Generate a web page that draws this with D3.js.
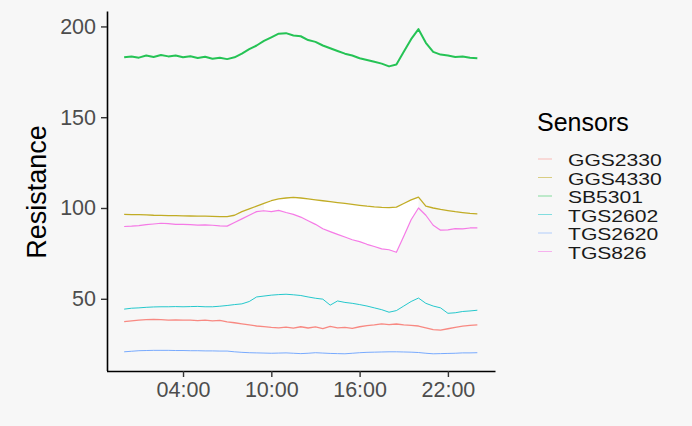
<!DOCTYPE html>
<html lang="en">

<head>
    <meta charset="UTF-8">
    <title>Sensors resistance</title>
    <style>
        body { margin: 0; background: #f7f7f7; }
        svg { font-family: "Liberation Sans", Arial, sans-serif; }
    </style>
</head>

<body>
    <svg id="chart"></svg>

    <script src="https://d3js.org/d3.v7.min.js"></script>
    <script>
        // hours after midnight
        const hours = [0, 0.5, 1, 1.5, 2, 2.5, 3, 3.5, 4, 4.5, 5, 5.5, 6, 6.5, 7, 7.5, 8, 8.5, 9, 9.5,
            10, 10.5, 11, 11.5, 12, 12.5, 13, 13.5, 14, 14.5, 15, 15.5, 16, 16.5, 17, 17.5, 18, 18.5, 19, 19.5,
            20, 20.5, 21, 21.5, 22, 22.5, 23, 23.5, 24]

        const sensors = ['GGS2330', 'GGS4330', 'SB5301', 'TGS2602', 'TGS2620', 'TGS826']
        const colors = ['#F8766D', '#B79F00', '#00BA38', '#00BFC4', '#619CFF', '#F564E3']

        const GGS2330 = [37.4, 37.8, 38.2, 38.5, 38.6, 38.5, 38.3, 38.4, 38.2, 38.3, 38.0, 38.2, 37.8, 38.1, 37.3, 36.8, 36.2, 35.6, 35.0, 34.7,
            34.3, 34.0, 34.4, 33.8, 34.6, 33.9, 34.5, 33.6, 34.8, 34.0, 34.3, 33.7, 34.6, 35.2, 35.6, 36.2, 35.8, 36.1, 35.6, 35.3,
            35.0, 34.0, 33.0, 32.7, 33.5, 34.3, 34.9, 35.3, 35.6]
        const GGS4330 = [96.5, 96.4, 96.3, 96.2, 96.0, 95.9, 95.8, 95.8, 95.7, 95.6, 95.5, 95.5, 95.4, 95.3, 95.3, 96.0, 98.0, 99.5, 101.0, 102.5,
            104.0, 105.0, 105.5, 105.8, 105.5, 105.0, 104.5, 104.0, 103.5, 103.0, 102.5, 102.0, 101.5, 101.0, 100.6, 100.3, 100.2, 100.5, 102.5, 104.5,
            106.0, 101.0, 100.0, 99.2, 98.6, 98.0, 97.5, 97.0, 96.8]
        const SB5301 = [183.0, 183.5, 182.8, 184.0, 183.2, 184.3, 183.5, 184.0, 183.0, 183.6, 182.6, 183.3, 182.2, 182.8, 182.0, 183.0, 185.0, 187.5, 189.5, 192.0,
            194.0, 196.0, 196.3, 195.0, 194.6, 192.5, 191.5, 189.5, 188.0, 186.5, 185.0, 184.0, 182.5, 181.5, 180.5, 179.5, 178.0, 179.0, 186.0, 193.0,
            198.5, 191.0, 186.0, 184.5, 184.0, 183.2, 183.5, 182.8, 182.5]
        const TGS2602 = [44.3, 44.8, 45.0, 45.3, 45.5, 45.6, 45.6, 45.7, 45.6, 45.7, 45.8, 45.6, 45.6, 45.9, 46.3, 46.8, 47.2, 48.5, 51.0, 51.5,
            52.0, 52.3, 52.5, 52.2, 51.8, 51.0, 50.3, 49.8, 46.5, 48.8, 48.0, 47.5, 46.8, 46.0, 45.0, 44.0, 42.6, 43.5, 46.0, 48.5,
            50.4, 47.5, 46.0, 45.0, 42.0, 42.3, 43.0, 43.3, 43.7]
        const TGS2620 = [20.8, 21.1, 21.4, 21.5, 21.6, 21.6, 21.6, 21.5, 21.5, 21.4, 21.4, 21.3, 21.3, 21.2, 21.2, 20.8, 20.5, 20.3, 20.2, 20.1,
            20.0, 20.1, 20.2, 20.0, 19.8, 20.0, 20.3, 20.1, 19.9, 19.8, 19.7, 20.0, 20.3, 20.5, 20.6, 20.7, 20.8, 20.8, 20.7, 20.6,
            20.4, 20.0, 19.7, 19.8, 19.9, 20.0, 20.2, 20.2, 20.3]
        const TGS826 = [89.8, 90.0, 90.3, 90.8, 91.2, 91.6, 91.4, 91.0, 91.0, 90.8, 90.6, 90.7, 90.5, 90.2, 90.0, 92.0, 94.0, 96.0, 98.0, 98.5,
            98.0, 98.7, 97.5, 96.5, 95.0, 93.0, 91.0, 88.6, 87.0, 85.5, 84.0, 82.5, 81.5, 80.0, 78.8, 77.5, 77.0, 75.6, 84.5, 93.5,
            100.0, 96.0, 90.5, 87.8, 88.0, 88.6, 88.5, 89.0, 89.1]

        const values = [GGS2330, GGS4330, SB5301, TGS2602, TGS2620, TGS826]
        const tickLabels = ['04:00', '10:00', '16:00', '22:00']

        function render() {
            const svg = d3.select('#chart').attr('width', 692).attr('height', 426)
            const day = new Date(2020, 0, 1)
            const toDate = h => new Date(day.getTime() + h * 3600 * 1000)
            const parse = d3.timeParse('%H:%M')

            const x = d3.scaleTime()
                .domain([toDate(-1.2), toDate(25.2)])
                .range([106.5, 495])
            const y = d3.scaleLinear()
                .domain([10.5, 208.5])
                .range([370.5, 11])

            const tickDates = tickLabels.map(t => {
                const p = parse(t)
                return toDate(p.getHours() + p.getMinutes() / 60)
            })

            // white band between GGS4330 and TGS826
            const band = hours.map((h, i) => ({ h, hi: GGS4330[i], lo: TGS826[i] }))
                .filter(d => d.h >= 9.5 && d.h <= 20)
            svg.append('path')
                .attr('fill', '#ffffff')
                .attr('d', d3.area()
                    .x(d => x(toDate(d.h)))
                    .y0(d => y(d.lo))
                    .y1(d => y(d.hi))(band))

            // lines - the noisy ones get a wider stroke
            const widths = { SB5301: 2.0, GGS2330: 1.3, GGS4330: 1.3, TGS826: 1.2 }
            const line = d3.line()
                .x(d => x(toDate(d[0])))
                .y(d => y(d[1]))
            sensors.forEach((s, k) => {
                svg.append('path')
                    .attr('fill', 'none')
                    .attr('stroke', colors[k])
                    .attr('stroke-width', widths[s] || 1)
                    .attr('stroke-opacity', 0.85)
                    .attr('stroke-linejoin', 'round')
                    .attr('d', line(hours.map((h, i) => [h, values[k][i]])))
            })

            // axes
            const xAxis = d3.axisBottom(x).tickValues(tickDates).tickFormat(d3.timeFormat('%H:%M'))
                .tickSize(6).tickPadding(5).tickSizeOuter(0)
            const yAxis = d3.axisLeft(y).tickValues([50, 100, 150, 200])
                .tickSize(6).tickPadding(5).tickSizeOuter(0)

            const gx = svg.append('g').attr('transform', 'translate(0,371)').call(xAxis)
            const gy = svg.append('g').attr('transform', 'translate(107,0)').call(yAxis)
            ;[gx, gy].forEach(g => {
                g.select('.domain').attr('stroke', '#000').attr('stroke-width', 1.6)
                g.selectAll('.tick line').attr('stroke', '#333').attr('stroke-width', 1.4)
                g.selectAll('.tick text').attr('fill', '#4d4d4d')
                    .style('font-size', '21.5px').style('font-family', '"Liberation Sans", Arial, sans-serif')
            })

            svg.append('text')
                .attr('transform', 'translate(46,192) rotate(-90)')
                .attr('text-anchor', 'middle')
                .style('font-size', '27px')
                .text('Resistance')

            // legend
            const legend = svg.append('g').attr('transform', 'translate(537,0)')
            legend.append('text')
                .attr('x', 0).attr('y', 131)
                .style('font-size', '25px')
                .text('Sensors')
            sensors.forEach((s, k) => {
                const yy = 166 + k * 18.5
                legend.append('line')
                    .attr('x1', 1).attr('x2', 15)
                    .attr('y1', yy - 7).attr('y2', yy - 7)
                    .attr('stroke', colors[k]).attr('stroke-width', 0.8)
                    .attr('stroke-opacity', 0.6)
                const t = legend.append('text')
                    .attr('x', 31).attr('y', yy)
                    .style('font-size', '17px')
                    .attr('fill', '#1a1a1a')
                    .text(s)
                // labels are drawn a little wider than the font's own width
                const w = t.node().getComputedTextLength()
                t.attr('textLength', w * 1.24).attr('lengthAdjust', 'spacingAndGlyphs')
            })
        }

        render()
    </script>
</body>

</html>
